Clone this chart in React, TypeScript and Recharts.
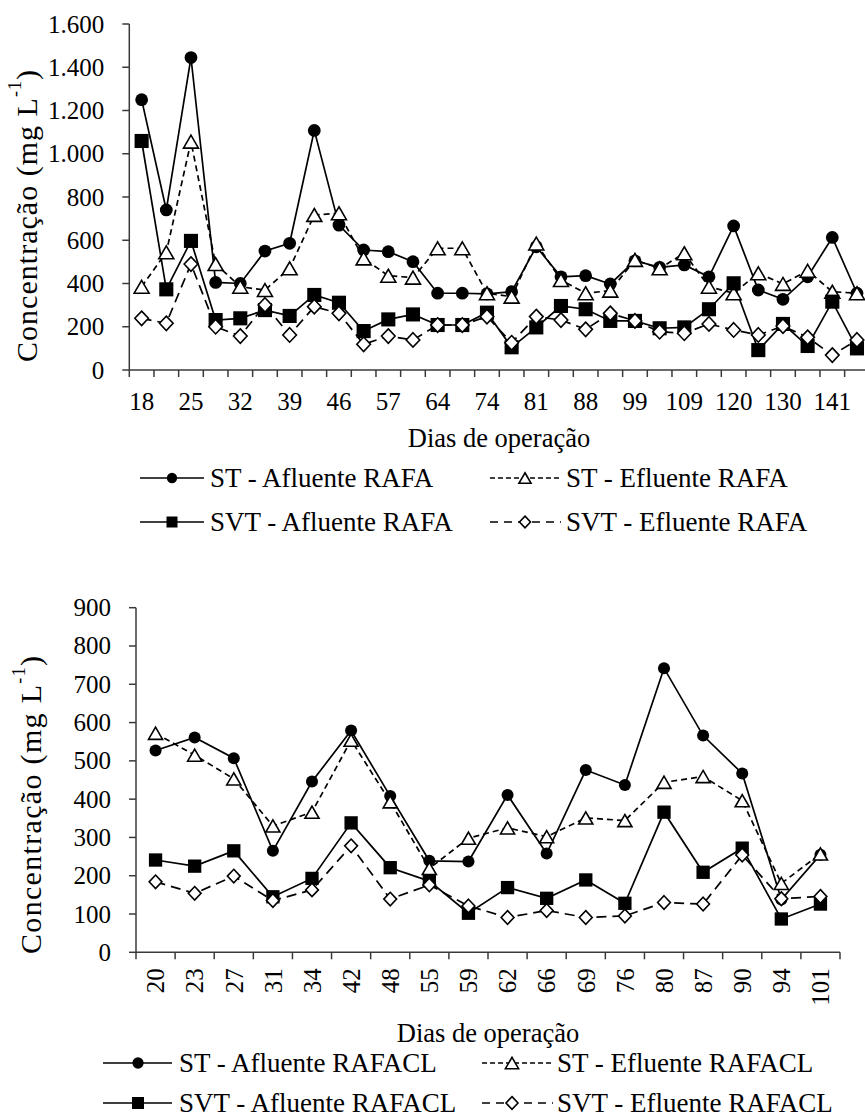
import React from 'react';
import { LineChart, Line, XAxis, YAxis, Legend } from 'recharts';

const FONT = "'Liberation Serif', 'Times New Roman', Times, serif";
const AXIS = '#3a3a3a';
const INK = '#000';

// ---------- RAFA (upper panel) ----------
const rafaDayLabels = ['18', '', '25', '', '32', '', '39', '', '46', '', '57', '', '64', '', '74', '', '81', '', '88', '', '99', '', '109', '', '120', '', '130', '', '141', ''];
const rafaStAfluente = [1250, 740, 1445, 405, 400, 550, 586, 1108, 670, 555, 547, 501, 355, 355, 352, 362, 570, 431, 436, 398, 505, 475, 486, 431, 666, 370, 327, 431, 613, 355];
const rafaStEfluente = [385, 544, 1056, 490, 385, 370, 470, 717, 725, 516, 436, 427, 563, 563, 355, 339, 585, 416, 355, 367, 509, 470, 540, 385, 355, 447, 398, 459, 362, 355];
const rafaSvtAfluente = [1059, 373, 597, 231, 239, 277, 250, 347, 311, 180, 234, 257, 208, 208, 265, 105, 197, 296, 281, 227, 227, 193, 197, 281, 401, 92, 213, 111, 316, 100];
const rafaSvtEfluente = [239, 216, 490, 200, 157, 301, 162, 293, 262, 119, 157, 139, 208, 208, 247, 126, 247, 231, 188, 262, 227, 177, 170, 213, 185, 162, 203, 151, 69, 139];
const rafaYTicks = [0, 200, 400, 600, 800, 1000, 1200, 1400, 1600];

// ---------- RAFACL (lower panel) ----------
const rafaclDays = ['20', '23', '27', '31', '34', '42', '48', '55', '59', '62', '66', '69', '76', '80', '87', '90', '94', '101'];
const rafaclStAfluente = [527, 561, 507, 265, 446, 579, 408, 239, 237, 411, 258, 476, 437, 742, 566, 467, 138, 255];
const rafaclStEfluente = [572, 515, 453, 330, 366, 554, 393, 219, 298, 325, 302, 351, 344, 444, 459, 396, 180, 257];
const rafaclSvtAfluente = [241, 225, 265, 145, 193, 338, 221, 186, 102, 169, 141, 189, 128, 366, 209, 272, 87, 126];
const rafaclSvtEfluente = [184, 154, 199, 135, 163, 278, 139, 176, 121, 91, 109, 91, 95, 130, 126, 254, 140, 146];
const rafaclYTicks = [0, 100, 200, 300, 400, 500, 600, 700, 800, 900];

const xTitle = 'Dias de operação';

type MarkerKind = 'circle' | 'square' | 'triangle' | 'diamond';

const fmtThousands = (v: number) => String(v).replace(/\B(?=(\d{3})+(?!\d))/g, '.');

function Marker({ kind, cx, cy, s }: { kind: MarkerKind; cx: number; cy: number; s: number }) {
  if (kind === 'circle') return <circle cx={cx} cy={cy} r={s * 0.47} fill={INK} />;
  if (kind === 'square') return <rect x={cx - s / 2} y={cy - s / 2} width={s} height={s} fill={INK} />;
  if (kind === 'triangle') {
    const w = s * 1.1, h = s * 0.95;
    return (
      <polygon
        points={`${cx},${cy - h / 2} ${cx + w / 2},${cy + h / 2} ${cx - w / 2},${cy + h / 2}`}
        fill="#fff" stroke={INK} strokeWidth={1.6} strokeLinejoin="miter"
      />
    );
  }
  const w = s * 0.5, h = s * 0.53;
  return (
    <polygon
      points={`${cx},${cy - h} ${cx + w},${cy} ${cx},${cy + h} ${cx - w},${cy}`}
      fill="#fff" stroke={INK} strokeWidth={1.6}
    />
  );
}

const dotRenderer = (kind: MarkerKind, s: number) => (props: any) => {
  const { cx, cy, index } = props;
  if (cx == null || cy == null) return <g key={`d-${index}`} />;
  return (
    <g key={`d-${kind}-${index}`}>
      <Marker kind={kind} cx={cx} cy={cy} s={s} />
    </g>
  );
};

type SeriesDef = { key: string; label: string; marker: MarkerKind; dash?: string; legendDash?: string };

function buildRows(a: number[], b: number[], c: number[], d: number[]) {
  return a.map((v, i) => ({ idx: i, stAfl: v, stEfl: b[i], svtAfl: c[i], svtEfl: d[i] }));
}

const rafaRows = buildRows(rafaStAfluente, rafaStEfluente, rafaSvtAfluente, rafaSvtEfluente);
const rafaclRows = buildRows(rafaclStAfluente, rafaclStEfluente, rafaclSvtAfluente, rafaclSvtEfluente);

const seriesFor = (reactor: string): SeriesDef[] => [
  { key: 'stAfl', label: `ST - Afluente ${reactor}`, marker: 'circle' },
  { key: 'stEfl', label: `ST - Efluente ${reactor}`, marker: 'triangle', dash: '6 4', legendDash: '5 3' },
  { key: 'svtAfl', label: `SVT - Afluente ${reactor}`, marker: 'square' },
  { key: 'svtEfl', label: `SVT - Efluente ${reactor}`, marker: 'diamond', dash: '10 6', legendDash: '8 6' },
];

// boundary ticks (between categories) plus the centre ticks that carry a label
function categoryTicks(n: number, labelled: (i: number) => boolean) {
  const t: number[] = [];
  for (let k = 0; k <= n; k++) t.push(k - 0.5);
  for (let i = 0; i < n; i++) if (labelled(i)) t.push(i);
  return t.sort((p, q) => p - q);
}

function YTitle({ tx, ty, len }: { tx: number; ty: number; len: number }) {
  return (
    <text
      transform={`translate(${tx},${ty}) rotate(-90)`}
      textAnchor="middle"
      dominantBaseline="central"
      fontFamily={FONT}
      fontSize={30}
      fill={INK}
      textLength={len}
      lengthAdjust="spacing"
    >
      <tspan>Concentração (mg L</tspan>
      <tspan dy={-11} fontSize={18}>-1</tspan>
      <tspan dy={11}>)</tspan>
    </text>
  );
}

function XTitle({ tx, ty }: { tx: number; ty: number }) {
  return (
    <text x={tx} y={ty} textAnchor="middle" fontFamily={FONT} fontSize={26.5} fill={INK}>
      {xTitle}
    </text>
  );
}

type LegendLayout = {
  rows: number[];
  cols: { x1: number; x2: number; mx: number; tx: number }[];
  fontSize: number;
  markerSize: number;
  width: number;
  height: number;
};

function LegendBlock({ series, layout }: { series: SeriesDef[]; layout: LegendLayout }) {
  return (
    <svg width={layout.width} height={layout.height} style={{ display: 'block', overflow: 'visible' }}>
      {series.map((s, i) => {
        const col = layout.cols[i % 2];
        const y = layout.rows[Math.floor(i / 2)];
        return (
          <g key={s.key}>
            <line x1={col.x1} x2={col.x2} y1={y} y2={y} stroke={INK} strokeWidth={1.6} strokeDasharray={s.legendDash} />
            <Marker kind={s.marker} cx={col.mx} cy={y} s={layout.markerSize} />
            <text x={col.tx} y={y} dy="0.34em" fontFamily={FONT} fontSize={layout.fontSize} fill={INK}>
              {s.label}
            </text>
          </g>
        );
      })}
    </svg>
  );
}

function YTick(props: any) {
  const { x, y, payload } = props;
  return (
    <text x={x} y={y} dy="0.34em" textAnchor="end" fontFamily={FONT} fontSize={25} fill={INK}>
      {fmtThousands(payload.value)}
    </text>
  );
}

function TopXTick(props: any) {
  const { x, y, payload } = props;
  const v = payload.value as number;
  if (!Number.isInteger(v)) return <line x1={x} x2={x} y1={y} y2={y + 7} stroke={AXIS} strokeWidth={1.5} />;
  const label = rafaDayLabels[v];
  if (!label) return <g />;
  return (
    <text x={x} y={y + 40} textAnchor="middle" fontFamily={FONT} fontSize={25} fill={INK}>
      {label}
    </text>
  );
}

function BottomXTick(props: any) {
  const { x, y, payload } = props;
  const v = payload.value as number;
  if (!Number.isInteger(v)) return <line x1={x} x2={x} y1={y} y2={y + 7} stroke={AXIS} strokeWidth={1.5} />;
  return (
    <text
      transform={`translate(${x},${y + 16}) rotate(-90)`}
      textAnchor="end"
      dy="0.35em"
      fontFamily={FONT}
      fontSize={25}
      fill={INK}
    >
      {rafaclDays[v]}
    </text>
  );
}

function Panel({
  rows, series, width, height, margin, yAxisWidth, yTicks, yMax, xTicks, xDomain, Tick,
  titleX, titleY, yTitle, legendTop, legendLayout, markerSize,
}: any) {
  return (
    <LineChart width={width} height={height} data={rows} margin={margin} style={{ fontFamily: FONT }}>
      <XAxis
        type="number"
        dataKey="idx"
        domain={xDomain}
        ticks={xTicks}
        interval={0}
        tickSize={0}
        tickMargin={0}
        tickLine={false}
        axisLine={{ stroke: AXIS, strokeWidth: 1.5 }}
        tick={<Tick />}
        height={100}
        allowDataOverflow
        label={<XTitle tx={titleX} ty={titleY} />}
      />
      <YAxis
        type="number"
        domain={[0, yMax]}
        ticks={yTicks}
        interval={0}
        width={yAxisWidth}
        tickSize={7}
        tickMargin={18}
        tick={<YTick />}
        tickLine={{ stroke: AXIS, strokeWidth: 1.5 }}
        axisLine={{ stroke: AXIS, strokeWidth: 1.5 }}
        label={<YTitle tx={yTitle.tx} ty={yTitle.ty} len={yTitle.len} />}
      />
      {series.map((s: SeriesDef) => (
        <Line
          key={s.key}
          type="linear"
          dataKey={s.key}
          name={s.label}
          stroke={INK}
          strokeWidth={1.7}
          strokeDasharray={s.dash}
          dot={dotRenderer(s.marker, s.marker === 'square' ? markerSize + 0.5 : markerSize)}
          activeDot={false}
          isAnimationActive={false}
        />
      ))}
      <Legend
        layout="horizontal"
        verticalAlign="middle"
        align="center"
        wrapperStyle={{ position: 'absolute', top: legendTop, left: 0, width: legendLayout.width, height: legendLayout.height }}
        content={() => <LegendBlock series={series} layout={legendLayout} />}
      />
    </LineChart>
  );
}

export default function App() {
  const rafaSeries = seriesFor('RAFA');
  const rafaclSeries = seriesFor('RAFACL');

  const topTicks = categoryTicks(rafaRows.length, (i) => rafaDayLabels[i] !== '');
  const bottomTicks = categoryTicks(rafaclRows.length, () => true);

  return (
    <div style={{ position: 'relative', width: 865, height: 1117, overflow: 'hidden', background: '#fff', fontFamily: FONT }}>
      <style>{'body{margin:0;overflow:hidden;background:#fff}'}</style>
      <div style={{ position: 'absolute', left: 0, top: 0 }}>
        <Panel
          rows={rafaRows}
          series={rafaSeries}
          width={880}
          height={550}
          margin={{ top: 24, right: 10.7, bottom: 80, left: 9.3 }}
          yAxisWidth={120}
          yTicks={rafaYTicks}
          yMax={1600}
          xTicks={topTicks}
          xDomain={[-0.5, rafaRows.length - 0.5]}
          Tick={TopXTick}
          titleX={499}
          titleY={447}
          yTitle={{ tx: 26, ty: 216, len: 292 }}
          legendTop={458}
          markerSize={13.6}
          legendLayout={{
            width: 865,
            height: 90,
            rows: [20, 64],
            fontSize: 27,
            markerSize: 11,
            cols: [
              { x1: 140, x2: 204, mx: 172, tx: 210 },
              { x1: 490, x2: 561, mx: 525, tx: 566 },
            ],
          }}
        />
      </div>
      <div style={{ position: 'absolute', left: 0, top: 560 }}>
        <Panel
          rows={rafaclRows}
          series={rafaclSeries}
          width={865}
          height={557}
          margin={{ top: 47.7, right: 25, bottom: 64.7, left: 16 }}
          yAxisWidth={120}
          yTicks={rafaclYTicks}
          yMax={900}
          xTicks={bottomTicks}
          xDomain={[-0.5, rafaclRows.length - 0.5]}
          Tick={BottomXTick}
          titleX={488}
          titleY={482}
          yTitle={{ tx: 30, ty: 245, len: 298 }}
          legendTop={483}
          markerSize={12.8}
          legendLayout={{
            width: 865,
            height: 80,
            rows: [20, 60],
            fontSize: 27,
            markerSize: 12,
            cols: [
              { x1: 103, x2: 172, mx: 138, tx: 179 },
              { x1: 482, x2: 553, mx: 512, tx: 557 },
            ],
          }}
        />
      </div>
    </div>
  );
}
